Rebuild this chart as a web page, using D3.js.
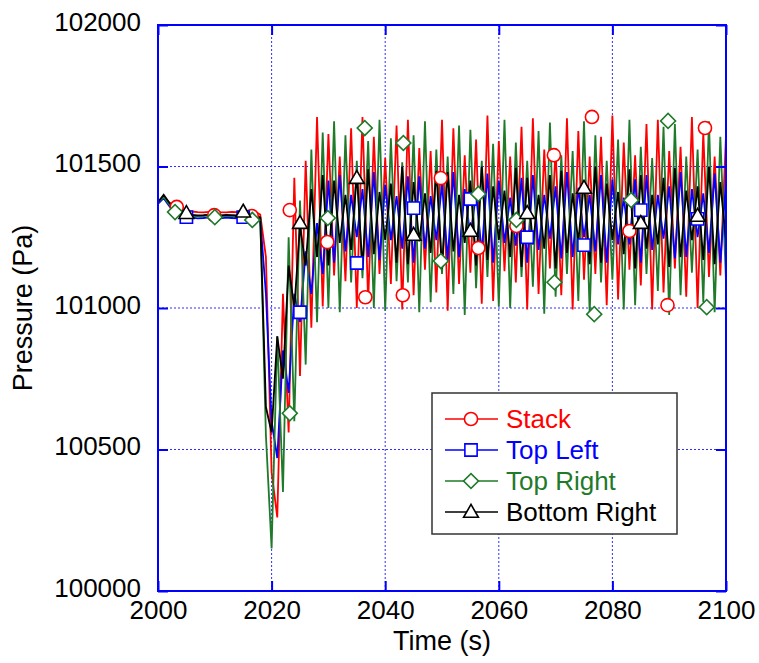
<!DOCTYPE html>
<html>
<head>
<meta charset="utf-8">
<script src="https://cdn.jsdelivr.net/npm/d3@7"></script>
<style>
  body { margin: 0; background: #fff; }
  svg { display: block; font-family: "Liberation Sans", Arial, sans-serif; }
</style>
</head>
<body>
<svg width="759" height="663"></svg>
<script>
// pressure traces, sampled once per second from 2000 s to 2100 s
const timeStart = 2000, timeEnd = 2100;
const times = d3.range(timeStart, timeEnd + 1, 1);

const seriesNames = ["Stack", "Top Left", "Top Right", "Bottom Right"];

const stackValues = [
  101375, 101395, 101372, 101355, 101345, 101340, 101341, 101339, 101338, 101340,
  101341, 101339, 101338, 101340, 101339, 101338, 101340, 101341, 101330, 101180,
  100420, 100260, 101050, 100560, 101460, 100760, 101520, 100930, 101675, 101005,
  101615, 101115, 101535, 101095, 101635, 101000, 101675, 101020, 101605, 101120,
  101530, 101085, 101645, 100995, 101665, 101045, 101565, 101135, 101555, 101055,
  101665, 100990, 101635, 101085, 101540, 101125, 101595, 101015, 101680, 101025,
  101590, 101130, 101535, 101090, 101640, 100995, 101670, 101050, 101560, 101140,
  101565, 101045, 101670, 100995, 101625, 101100, 101535, 101120, 101605, 101010,
  101680, 101030, 101585, 101135, 101540, 101080, 101650, 100995, 101665, 101055,
  101555, 101140, 101570, 101040, 101675, 101000, 101620, 101110, 101535, 101115,
  101610
];

const topLeftValues = [
  101368, 101388, 101360, 101338, 101325, 101318, 101319, 101317, 101318, 101320,
  101318, 101317, 101319, 101318, 101317, 101319, 101318, 101317, 101315, 101050,
  100600, 100470, 100850, 100700, 101050, 100950, 101200, 101050, 101300, 101120,
  101450, 101160, 101470, 101200, 101400, 101250, 101420, 101180, 101480, 101170,
  101435, 101240, 101395, 101210, 101465, 101160, 101465, 101210, 101395, 101240,
  101440, 101170, 101480, 101180, 101420, 101250, 101405, 101195, 101475, 101160,
  101450, 101230, 101390, 101220, 101460, 101160, 101470, 101205, 101400, 101245,
  101430, 101175, 101480, 101180, 101425, 101250, 101400, 101200, 101470, 101160,
  101455, 101225, 101390, 101225, 101455, 101160, 101470, 101205, 101400, 101245,
  101430, 101175, 101480, 101180, 101420, 101250, 101405, 101195, 101475, 101160,
  101450
];

const topRightValues = [
  101372, 101392, 101365, 101345, 101332, 101325, 101326, 101324, 101325, 101327,
  101325, 101324, 101326, 101325, 101324, 101326, 101325, 101324, 101320, 100550,
  100150, 100900, 100350, 101250, 100600, 101380, 100800, 101560, 100950, 101620,
  101000, 101660, 100985, 101610, 101090, 101520, 101105, 101590, 101000, 101665,
  100990, 101600, 101095, 101515, 101090, 101610, 100985, 101660, 101020, 101560,
  101120, 101535, 101050, 101645, 100975, 101630, 101070, 101520, 101110, 101580,
  101005, 101665, 101000, 101585, 101110, 101520, 101075, 101625, 100980, 101655,
  101040, 101540, 101120, 101555, 101025, 101660, 100980, 101610, 101090, 101520,
  101100, 101595, 100995, 101665, 101010, 101570, 101120, 101530, 101060, 101640,
  100975, 101650, 101045, 101535, 101125, 101560, 101020, 101660, 100985, 101605,
  101095
];

const bottomRightValues = [
  101374, 101400, 101372, 101350, 101336, 101328, 101329, 101327, 101328, 101330,
  101328, 101327, 101329, 101328, 101327, 101329, 101328, 101327, 101320, 100650,
  100560, 100900, 100750, 101150, 101000, 101290, 101150, 101420, 101180, 101470,
  101150, 101450, 101230, 101400, 101205, 101475, 101140, 101490, 101190, 101410,
  101240, 101440, 101160, 101500, 101155, 101445, 101235, 101405, 101195, 101485,
  101140, 101480, 101200, 101400, 101230, 101450, 101150, 101500, 101170, 101430,
  101240, 101415, 101180, 101495, 101145, 101460, 101225, 101400, 101210, 101470,
  101140, 101485, 101195, 101405, 101235, 101445, 101155, 101500, 101160, 101440,
  101240, 101410, 101190, 101490, 101140, 101470, 101210, 101400, 101225, 101460,
  101145, 101495, 101180, 101415, 101240, 101430, 101170, 101500, 101155, 101445,
  101235
];

// marker points (time, value) as they sit on the traces
const stackMarkerTimes = [2003.3, 2009.9, 2016.5, 2023.2, 2029.8, 2036.5, 2043.1, 2049.8, 2056.4, 2063.1, 2069.7, 2076.4, 2083.0, 2089.7, 2096.3];
const stackMarkerValues = [101357, 101328, 101325, 101346, 101233, 101038, 101045, 101459, 101212, 101290, 101540, 101675, 101272, 101010, 101636];
const topLeftMarkerTimes = [2005, 2015, 2025, 2035, 2045, 2055, 2065, 2075, 2085, 2095];
const topLeftMarkerValues = [101321, 101321, 100985, 101159, 101353, 101385, 101250, 101222, 101346, 101315];
const topRightMarkerTimes = [2003.0, 2010.0, 2016.6, 2023.2, 2029.9, 2036.4, 2043.2, 2049.8, 2056.4, 2063.1, 2069.8, 2076.8, 2083.3, 2089.8, 2096.6];
const topRightMarkerValues = [101339, 101321, 101311, 100628, 101318, 101636, 101583, 101166, 101403, 101311, 101091, 100978, 101381, 101661, 101003];
const bottomRightMarkerTimes = [2005, 2015, 2025, 2035, 2045, 2055, 2065, 2075, 2085, 2095];
const bottomRightMarkerValues = [101335, 101340, 101300, 101459, 101258, 101272, 101335, 101424, 101300, 101325];

const xTicks = [2000, 2020, 2040, 2060, 2080, 2100];
const yTicks = [100000, 100500, 101000, 101500, 102000];

const svg = d3.select("svg");
const plotLeft = 158, plotRight = 726, plotTop = 25, plotBottom = 591;

const x = d3.scaleLinear().domain([timeStart, timeEnd]).range([plotLeft, plotRight]);
const y = d3.scaleLinear().domain([100000, 102000]).range([plotBottom, plotTop]);

const frameBlue = "#0000ff";
const tickFont = "26px";

const series = [
  { name: seriesNames[0], values: stackValues, color: "#ff0000", shape: "circle",
    mt: stackMarkerTimes, mv: stackMarkerValues },
  { name: seriesNames[1], values: topLeftValues, color: "#0000ff", shape: "square",
    mt: topLeftMarkerTimes, mv: topLeftMarkerValues },
  { name: seriesNames[2], values: topRightValues, color: "#1f7a2a", shape: "diamond",
    mt: topRightMarkerTimes, mv: topRightMarkerValues },
  { name: seriesNames[3], values: bottomRightValues, color: "#000000", shape: "triangle",
    mt: bottomRightMarkerTimes, mv: bottomRightMarkerValues }
];

function markerPath(shape) {
  if (shape === "circle") return d3.symbol(d3.symbolCircle, 135)();
  if (shape === "square") return d3.symbol(d3.symbolSquare, 150)();
  if (shape === "diamond") return d3.symbol(d3.symbolSquare, 112)();
  return d3.symbol(d3.symbolTriangle, 95)();
}
function markerTransform(shape, px, py) {
  if (shape === "diamond") return "translate(" + px + "," + py + ") rotate(45)";
  if (shape === "triangle") return "translate(" + px + "," + (py + 1) + ")";
  return "translate(" + px + "," + py + ")";
}

// --- GRID ---
const grid = svg.append("g")
  .attr("stroke", "#2f2fff")
  .attr("stroke-width", 1)
  .attr("stroke-dasharray", "2,2");
grid.selectAll("line.gx")
  .data(xTicks.slice(1, -1))
  .join("line")
  .attr("x1", d => x(d)).attr("x2", d => x(d))
  .attr("y1", plotTop).attr("y2", plotBottom);
grid.selectAll("line.gy")
  .data(yTicks.slice(1, -1))
  .join("line")
  .attr("x1", plotLeft).attr("x2", plotRight)
  .attr("y1", d => y(d)).attr("y2", d => y(d));

// --- DATA LINES ---
svg.append("defs").append("clipPath").attr("id", "plot-clip")
  .append("rect")
  .attr("x", plotLeft).attr("y", plotTop)
  .attr("width", plotRight - plotLeft).attr("height", plotBottom - plotTop);

const line = d3.line()
  .x((d, i) => x(times[i]))
  .y(d => y(d));

const plot = svg.append("g").attr("clip-path", "url(#plot-clip)");
plot.selectAll("path.trace")
  .data(series)
  .join("path")
  .attr("class", "trace")
  .attr("fill", "none")
  .attr("stroke", d => d.color)
  .attr("stroke-width", 1.8)
  .attr("stroke-linejoin", "miter")
  .attr("d", d => line(d.values));

// markers go on top of all traces
series.forEach(function(s) {
  plot.append("g")
    .selectAll("path")
    .data(s.mt.map((t, i) => [t, s.mv[i]]))
    .join("path")
    .attr("d", markerPath(s.shape))
    .attr("transform", d => markerTransform(s.shape, x(d[0]), y(d[1])))
    .attr("fill", "#fff")
    .attr("stroke", s.color)
    .attr("stroke-width", 1.6);
});

// --- AXES ---
const xAxis = svg.append("g")
  .attr("transform", "translate(0," + plotBottom + ")")
  .call(d3.axisBottom(x).tickValues(xTicks).tickFormat(d3.format("d"))
    .tickSizeInner(-10).tickSizeOuter(0).tickPadding(10));
const yAxis = svg.append("g")
  .attr("transform", "translate(" + plotLeft + ",0)")
  .call(d3.axisLeft(y).tickValues(yTicks).tickFormat(d3.format("d"))
    .tickSizeInner(-10).tickSizeOuter(0).tickPadding(17));
const xAxisTop = svg.append("g")
  .attr("transform", "translate(0," + plotTop + ")")
  .call(d3.axisTop(x).tickValues(xTicks).tickFormat("")
    .tickSizeInner(-10).tickSizeOuter(0));
const yAxisRight = svg.append("g")
  .attr("transform", "translate(" + plotRight + ",0)")
  .call(d3.axisRight(y).tickValues(yTicks).tickFormat("")
    .tickSizeInner(-10).tickSizeOuter(0));

[xAxis, yAxis, xAxisTop, yAxisRight].forEach(function(a) {
  a.select(".domain").remove();
  a.selectAll(".tick line").attr("stroke", frameBlue).attr("stroke-width", 2);
  a.selectAll("text")
    .attr("fill", "#000")
    .style("font-size", tickFont)
    .style("font-family", "'Liberation Sans', Arial, sans-serif");
});
yAxis.selectAll("text").attr("dy", "0.2em");

svg.append("rect")
  .attr("x", plotLeft).attr("y", plotTop)
  .attr("width", plotRight - plotLeft).attr("height", plotBottom - plotTop)
  .attr("fill", "none")
  .attr("stroke", frameBlue)
  .attr("stroke-width", 2);

// axis titles
svg.append("text")
  .attr("x", (plotLeft + plotRight) / 2)
  .attr("y", 650)
  .attr("text-anchor", "middle")
  .style("font-size", "27px")
  .text("Time (s)");

svg.append("text")
  .attr("transform", "translate(32," + ((plotTop + plotBottom) / 2) + ") rotate(-90)")
  .attr("text-anchor", "middle")
  .style("font-size", "27px")
  .text("Pressure (Pa)");

// --- LEGEND ---
const legend = svg.append("g").attr("transform", "translate(432,393)");
legend.append("rect")
  .attr("width", 245).attr("height", 141)
  .attr("fill", "#fff")
  .attr("stroke", "#333")
  .attr("stroke-width", 1.5);

const legendRow = legend.selectAll("g.row")
  .data(series)
  .join("g")
  .attr("class", "row")
  .attr("transform", (d, i) => "translate(0," + (26 + i * 31) + ")");
legendRow.append("line")
  .attr("x1", 13).attr("x2", 66)
  .attr("stroke", d => d.color)
  .attr("stroke-width", 1.5);
legendRow.append("path")
  .attr("d", d => markerPath(d.shape))
  .attr("transform", d => markerTransform(d.shape, 39, 0))
  .attr("fill", "#fff")
  .attr("stroke", d => d.color)
  .attr("stroke-width", 1.6);
legendRow.append("text")
  .attr("x", 74)
  .attr("y", 9)
  .attr("fill", d => d.color)
  .style("font-size", "26px")
  .text(d => d.name);
</script>
</body>
</html>
